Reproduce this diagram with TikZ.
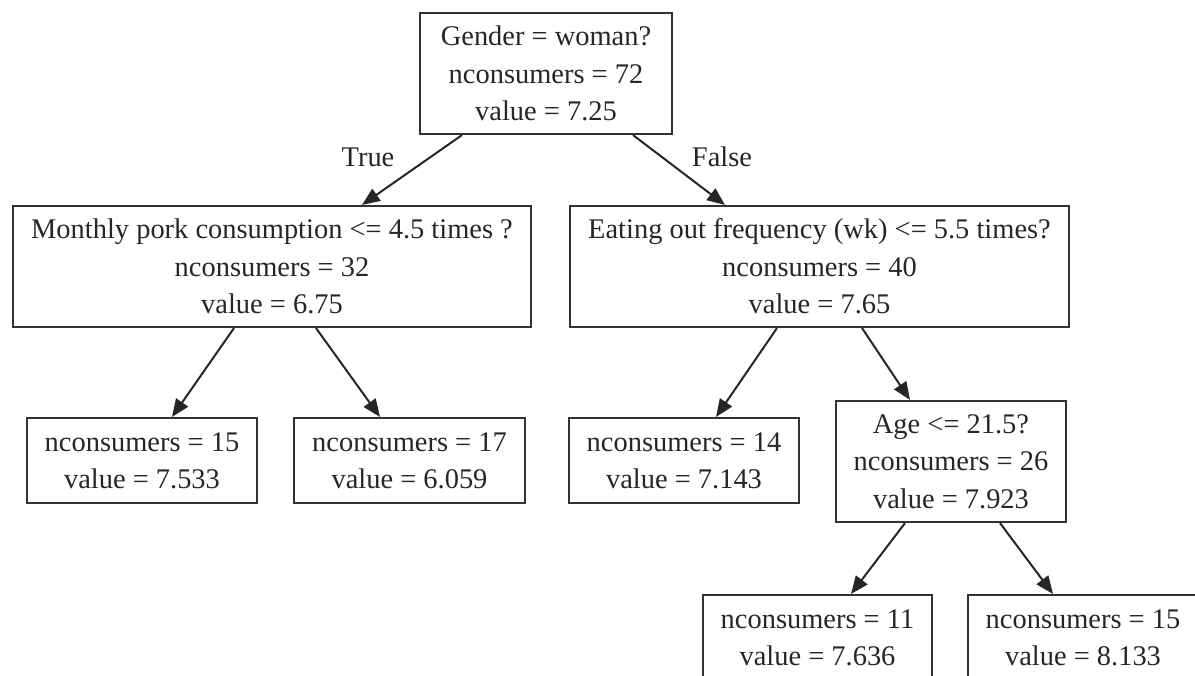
\documentclass[tikz,border=0pt]{standalone}
\usepackage{fontspec}
\setmainfont{Liberation Serif}
\usetikzlibrary{arrows.meta,calc}
\begin{document}
\begin{tikzpicture}
		[x=0.45pt,y=-0.45pt,
		box3/.style={rectangle,draw=black!80,line width=0.9pt,align=center,
inner xsep=8pt,inner ysep=0pt,minimum height=54.5pt,text=black!85,font=\fontsize{12.8}{16.8}\selectfont},
		box2/.style={box3,minimum height=38.25pt},
		textstyle/.style={text=black!85,font=\fontsize{12.8}{16.8}\selectfont},
		edgestyle/.style={-{Triangle[length=8pt,width=6.5pt]},line width=0.9pt,draw=black!85}]
		\useasboundingbox (0,0) rectangle (1195,676);
		% tree nodes
		\node at (546,73.5) (root) [box3,minimum width=113pt] {Gender = woman?\\nconsumers = 72\\value = 7.25};
		\node at (272,266.5) (pork) [box3] {Monthly pork consumption <= 4.5 times ?\\nconsumers = 32\\value = 6.75};
		\node at (819.5,266.5) (eatout) [box3] {Eating out frequency (wk) <= 5.5 times?\\nconsumers = 40\\value = 7.65};
		\node at (142,460.5) (leafA) [box2] {nconsumers = 15\\value = 7.533};
		\node at (409.5,460.5) (leafB) [box2] {nconsumers = 17\\value = 6.059};
		\node at (684,460.5) (leafC) [box2] {nconsumers = 14\\value = 7.143};
		\node at (951,461.5) (age) [box3] {Age <= 21.5?\\nconsumers = 26\\value = 7.923};
		\node at (817.5,637.5) (leafD) [box2] {nconsumers = 11\\value = 7.636};
		\node at (1083,637.5) (leafE) [box2] {nconsumers = 15\\value = 8.133};
		% edges
		\draw [edgestyle] ($(root.south)+(-84,0)$) -- ($(pork.north)+(90,0)$);
		\draw [edgestyle] ($(root.south)+(87,0)$) -- ($(eatout.north)+(-94.5,0)$);
		\draw [edgestyle] ($(pork.south)+(-38,0)$) -- ($(leafA.north)+(30,0)$);
		\draw [edgestyle] ($(pork.south)+(44,0)$) -- ($(leafB.north)+(-29.5,0)$);
		\draw [edgestyle] ($(eatout.south)+(-42.5,0)$) -- ($(leafC.north)+(32,0)$);
		\draw [edgestyle] ($(eatout.south)+(42.5,0)$) -- ($(age.north)+(-41,0)$);
		\draw [edgestyle] ($(age.south)+(-46,0)$) -- ($(leafD.north)+(33.5,0)$);
		\draw [edgestyle] ($(age.south)+(49,0)$) -- ($(leafE.north)+(-30,0)$);
		% branch labels
		\node at (368,157) (truelbl) [textstyle] {True};
		\node at (722,157) (falselbl) [textstyle] {False};
	\end{tikzpicture}
\end{document}
